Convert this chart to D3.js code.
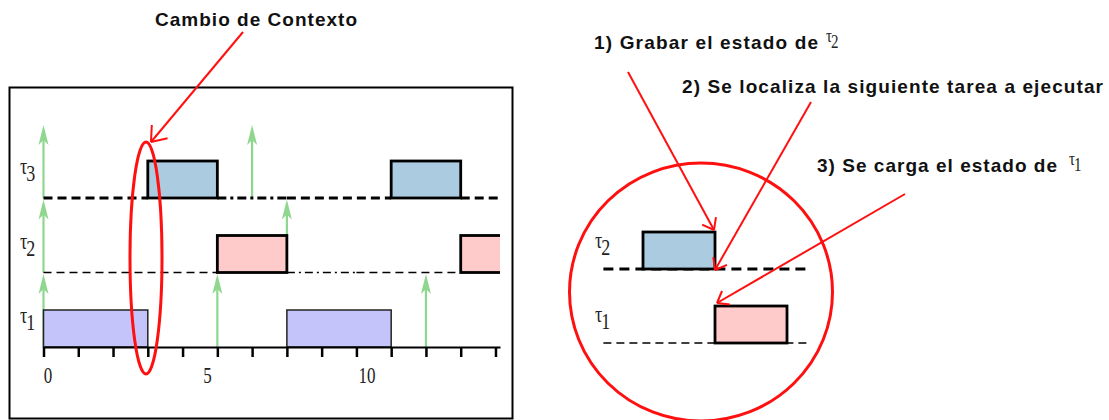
<!DOCTYPE html>
<html>
<head>
<meta charset="utf-8">
<script src="https://cdn.jsdelivr.net/npm/d3@7"></script>
<style>
  html, body { margin: 0; padding: 0; background: #fff; }
  svg { display: block; }
  .note { font-family: "Liberation Sans", Arial, sans-serif; font-weight: bold; fill: #111; }
  .tau { font-family: "Liberation Serif", "Times New Roman", serif; fill: #222; }
</style>
</head>
<body>
<div id="chart"></div>
<script>
// schedule of the three tasks (time units)
const taskNames = ["τ1", "τ2", "τ3"];
const jobTask = ["τ1", "τ1", "τ2", "τ2", "τ3", "τ3"];
const jobStart = [0, 7, 5, 12, 3, 10];
const jobEnd = [3, 10, 7, 13.3, 5, 12];
const releaseTask = ["τ1", "τ1", "τ1", "τ2", "τ2", "τ3", "τ3"];
const releaseTime = [0, 5, 11, 0, 7, 0, 6];
const idleTask = ["τ3", "τ3", "τ3", "τ3", "τ2", "τ2", "τ2"];
const idleFrom = [0, 5, 7, 12, 0, 7, 9];
const idleTo = [3, 7, 10, 13.13, 5, 9, 12];
const idleKind = ["dash", "dot", "dash", "dash", "dash", "dot", "dash"];
const tickValues = d3.range(0, 14);
const tickLabels = [0, 5, 10];
// zoom on the context switch
const zoomTasks = ["τ2", "τ1"];
const zoomStart = [0, 2];
const zoomEnd = [2, 4];
const notes = [
  "Cambio de Contexto",
  "1) Grabar el estado de",
  "2) Se localiza la siguiente tarea a ejecutar",
  "3) Se carga el estado de",
];

const w = 1109;
const h = 420;
const boxH = 37;
const fill = { "τ1": "#c4c4fa", "τ2": "#ffcaca", "τ3": "#abcbe0" };
const green = "#8fd68f";
const red = "#ff1010";

const svg = d3.select("#chart").append("svg").attr("width", w).attr("height", h);
svg.append("defs").append("clipPath").attr("id", "plot")
  .append("rect").attr("x", 0).attr("y", 0).attr("width", 500).attr("height", h);

const tau = (g, name, x, y, size, drop) => {
  const t = g.append("text").attr("class", "tau")
    .attr("transform", `translate(${x},${y}) scale(1,1.3)`)
    .attr("font-size", size);
  t.append("tspan").text(name[0]);
  t.append("tspan").attr("dx", -1).attr("dy", drop / 1.3).text(name.slice(1));
};

// ---- left: schedule ----
const x = d3.scaleLinear().domain([0, 13.13]).range([43.5, 500]);
const y = d3.scalePoint().domain(taskNames).range([347, 198]);
const xLab = d3.scaleLinear().domain([0, 10]).range([48, 367]);

svg.append("rect").attr("x", 9.5).attr("y", 87.5).attr("width", 503).attr("height", 331)
  .attr("fill", "none").attr("stroke", "#000").attr("stroke-width", 2);

const rel = svg.append("g");
releaseTime.forEach((t, i) => {
  const base = y(releaseTask[i]);
  const tip = base - 73;
  rel.append("line").attr("x1", x(t)).attr("x2", x(t)).attr("y1", base).attr("y2", tip + 8)
    .attr("stroke", green).attr("stroke-width", 2.2);
  rel.append("path").attr("d", "M0,0L-5,20L0,15L5,20Z")
    .attr("transform", `translate(${x(t)},${tip})`).attr("fill", green);
});

const idle = svg.append("g").attr("clip-path", "url(#plot)");
idleFrom.forEach((f, i) => {
  const thick = idleTask[i] === "τ3";
  const dash = idleKind[i] === "dash" ? (thick ? "9,5" : "8,5") : (thick ? "9,4,3,4" : "8,4,2,4");
  idle.append("line")
    .attr("x1", x(f)).attr("x2", x(idleTo[i]))
    .attr("y1", y(idleTask[i])).attr("y2", y(idleTask[i]))
    .attr("stroke", "#000").attr("stroke-width", thick ? 3 : 1.6)
    .attr("stroke-dasharray", dash);
});

svg.append("g").attr("clip-path", "url(#plot)")
  .selectAll("rect")
  .data(jobStart.map((s, i) => ({ task: jobTask[i], s, e: jobEnd[i] })))
  .join("rect")
  .attr("x", (d) => x(d.s))
  .attr("y", (d) => y(d.task) - boxH)
  .attr("width", (d) => x(d.e) - x(d.s))
  .attr("height", boxH)
  .attr("fill", (d) => fill[d.task])
  .attr("stroke", (d) => (d.task === "τ1" ? "#222" : "#000"))
  .attr("stroke-width", (d) => (d.task === "τ1" ? 1.5 : 2.8));

const axis = svg.append("g").attr("transform", `translate(0,${y("τ1")})`)
  .call(d3.axisBottom(x).tickValues(tickValues).tickSize(10).tickSizeOuter(0).tickFormat(""));
axis.select(".domain").attr("stroke", "#000").attr("stroke-width", 2);
axis.selectAll(".tick line").attr("stroke", "#000").attr("stroke-width", 2.5);

svg.append("g").selectAll("text").data(tickLabels).join("text")
  .attr("class", "tau")
  .attr("text-anchor", "middle")
  .attr("font-size", 17)
  .attr("transform", (d) => `translate(${xLab(d)},383) scale(1,1.3)`)
  .text((d) => d);

const labels = svg.append("g");
taskNames.forEach((n) => tau(labels, n, 20, y(n) - 24, 18, 7));

// ---- right: zoom ----
const xz = d3.scaleLinear().domain([0, 2]).range([643, 715]);
const yz = d3.scalePoint().domain(zoomTasks).range([269, 343]);
const zoomFill = ["#abcbe0", "#ffcaca"];
const zg = svg.append("g");
zoomTasks.forEach((n, i) => {
  zg.append("line").attr("x1", xz(-1.1)).attr("x2", xz(4.6))
    .attr("y1", yz(n)).attr("y2", yz(n))
    .attr("stroke", "#000").attr("stroke-width", i === 0 ? 3 : 1.6)
    .attr("stroke-dasharray", i === 0 ? "10,6" : "8,5");
  zg.append("rect").attr("x", xz(zoomStart[i])).attr("y", yz(n) - boxH)
    .attr("width", xz(zoomEnd[i]) - xz(zoomStart[i])).attr("height", boxH)
    .attr("fill", zoomFill[i]).attr("stroke", "#000").attr("stroke-width", 2.8);
  tau(zg, n, 595, yz(n) - 21, 18, 7);
});

// ---- notes ----
const nt = svg.append("g");
const note = (s, nx, ny, len) => nt.append("text").attr("class", "note")
  .attr("x", nx).attr("y", ny).attr("font-size", 19)
  .attr("textLength", len).attr("lengthAdjust", "spacing").text(s);
note(notes[0], 155, 26, 202);
note(notes[1], 594, 49, 224);
note(notes[2], 682, 93, 421);
note(notes[3], 817, 172, 240);
tau(nt, "τ2", 826, 42, 15, 6);
tau(nt, "τ1", 1069, 165, 15, 6);

// ---- red marks ----
const rg = svg.append("g").attr("fill", "none").attr("stroke", red);
const redArrow = (x1, y1, x2, y2, len) => {
  rg.append("line").attr("x1", x1).attr("y1", y1).attr("x2", x2).attr("y2", y2).attr("stroke-width", 2);
  const a = Math.atan2(y1 - y2, x1 - x2);
  [-0.65, 0.65].forEach((da) =>
    rg.append("line").attr("x1", x2).attr("y1", y2)
      .attr("x2", x2 + len * Math.cos(a + da)).attr("y2", y2 + len * Math.sin(a + da))
      .attr("stroke-width", 2));
};
rg.append("ellipse").attr("cx", 146).attr("cy", 258).attr("rx", 16).attr("ry", 116).attr("stroke-width", 3);
redArrow(243, 32, 151, 142, 17);
rg.append("ellipse").attr("cx", 701).attr("cy", 292).attr("rx", 131.5).attr("ry", 129).attr("stroke-width", 3);
redArrow(628, 72, 714, 230, 13);
redArrow(811, 102, 715, 270, 13);
redArrow(905, 194, 717, 303, 13);
</script>
</body>
</html>
